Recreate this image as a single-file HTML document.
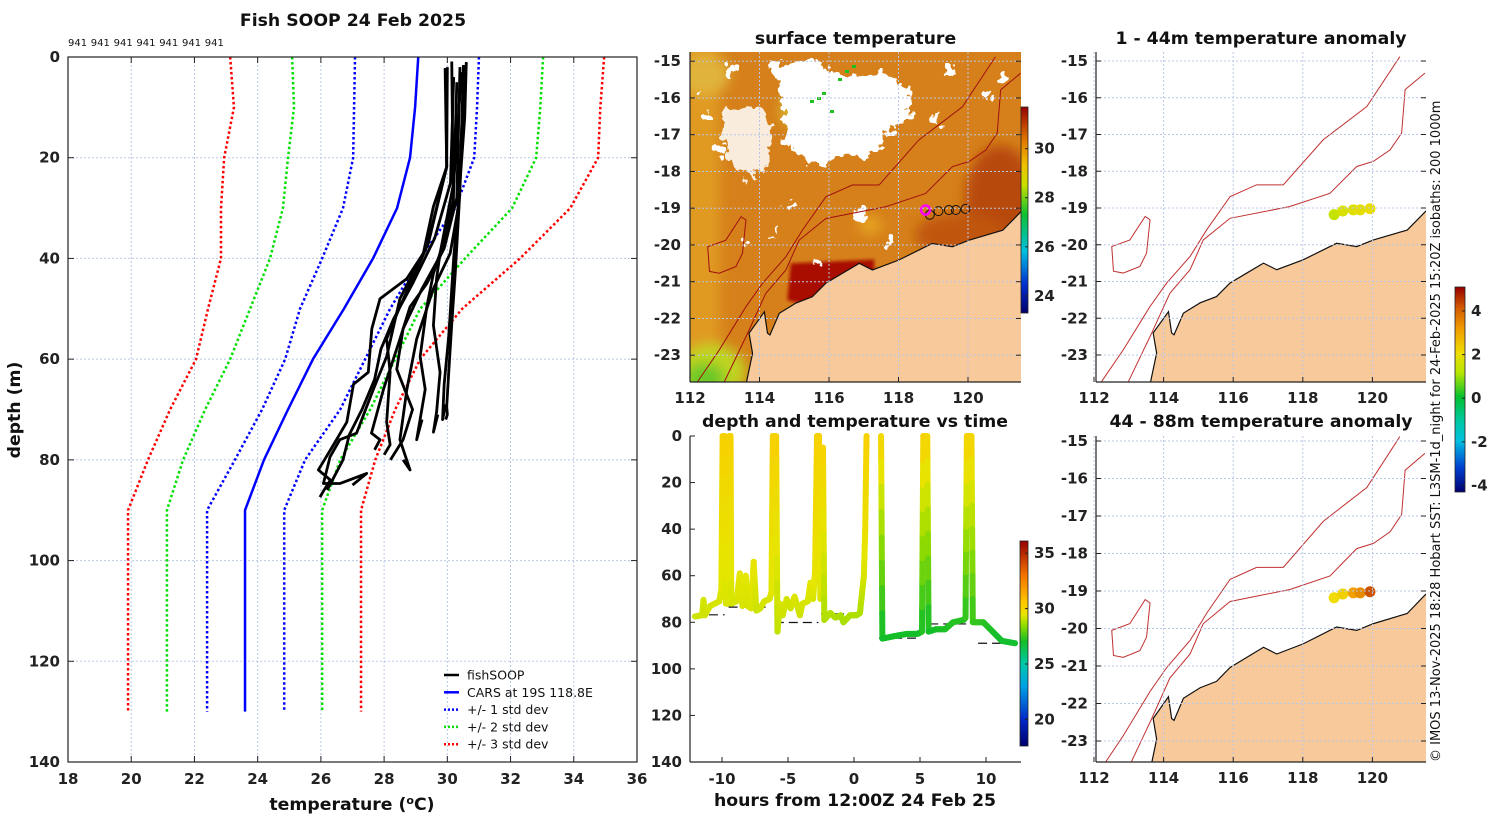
<!DOCTYPE html>
<html><head><meta charset="utf-8">
<style>
html,body{margin:0;padding:0;background:#fff;}
svg{display:block;font-family:"DejaVu Sans","Liberation Sans",sans-serif;}
.tk{font-size:15px;font-weight:bold;fill:#222;}
.ti{font-size:17.3px;font-weight:bold;fill:#111;}
</style></head>
<body>
<svg id="fig" width="1500" height="820" viewBox="0 0 1500 820" xmlns="http://www.w3.org/2000/svg">
<defs>
<clipPath id="cMid"><rect x="690" y="52" width="331" height="330"/></clipPath>
<clipPath id="cR1"><rect x="1096" y="52" width="330" height="330"/></clipPath>
<clipPath id="cR2"><rect x="1096" y="436" width="330" height="326"/></clipPath>
<filter id="blur6"><feGaussianBlur stdDeviation="6"/></filter>
<filter id="blur3"><feGaussianBlur stdDeviation="1.5"/></filter>
<filter id="ragged" x="-20%" y="-20%" width="140%" height="140%">
<feTurbulence type="fractalNoise" baseFrequency="0.09" numOctaves="3" seed="4" result="n"/>
<feDisplacementMap in="SourceGraphic" in2="n" scale="22" xChannelSelector="R" yChannelSelector="G"/>
</filter>
<linearGradient id="gSST" x1="0" y1="1" x2="0" y2="0">
<stop offset="0" stop-color="#00006e"/><stop offset="0.14" stop-color="#0030d0"/><stop offset="0.3" stop-color="#00c0e0"/><stop offset="0.48" stop-color="#10c030"/><stop offset="0.62" stop-color="#c8e000"/><stop offset="0.72" stop-color="#f0c000"/><stop offset="0.84" stop-color="#e07800"/><stop offset="1" stop-color="#960000"/>
</linearGradient>
<linearGradient id="gTS" x1="0" y1="1" x2="0" y2="0">
<stop offset="0" stop-color="#00006e"/><stop offset="0.13" stop-color="#0028c8"/><stop offset="0.29" stop-color="#00a0e6"/><stop offset="0.4" stop-color="#00c8aa"/><stop offset="0.51" stop-color="#14be28"/><stop offset="0.59" stop-color="#96dc00"/><stop offset="0.64" stop-color="#e6e600"/><stop offset="0.7" stop-color="#ffc800"/><stop offset="0.84" stop-color="#f06e00"/><stop offset="1" stop-color="#960000"/>
</linearGradient>
<linearGradient id="gAN" x1="0" y1="1" x2="0" y2="0">
<stop offset="0" stop-color="#000070"/><stop offset="0.12" stop-color="#0040d0"/><stop offset="0.25" stop-color="#00c0e0"/><stop offset="0.35" stop-color="#00c8a0"/><stop offset="0.46" stop-color="#00c030"/><stop offset="0.58" stop-color="#b4e600"/><stop offset="0.68" stop-color="#f0dc00"/><stop offset="0.79" stop-color="#f0a000"/><stop offset="0.9" stop-color="#d25a00"/><stop offset="1" stop-color="#960000"/>
</linearGradient>
</defs>
<g id="gLeft"></g>
<g id="gMid"></g>
<g id="gTime"></g>
<g id="gR1"></g>
<g id="gR2"></g>
<text x="1440" y="762" transform="rotate(-90 1440 762)" style="font-size:13px;fill:#111">© IMOS 13-Nov-2025 18:28 Hobart SST: L3SM-1d_night for 24-Feb-2025 15:20Z isobaths: 200  1000m</text>
</svg>
<script>
// ---------- data: left profile chart ----------
const stdDepths = [0,10,20,30,40,50,60,70,80,90,130];
const carsMean  = [29.08,28.98,28.82,28.41,27.65,26.73,25.75,24.96,24.2,23.6,23.6];
const minus1 = [27.08,27.05,27.02,26.7,26.04,25.34,24.87,24.14,23.28,22.4,22.4];
const plus1  = [31.0,30.94,30.85,30.25,29.14,28.19,27.4,26.61,25.5,24.84,24.84];
const minus2 = [25.09,25.15,24.96,24.8,24.39,23.76,23.13,22.34,21.64,21.13,21.13];
const plus2  = [33.03,32.94,32.81,32.05,30.56,29.14,28.35,27.56,26.61,26.04,26.04];
const minus3 = [23.13,23.25,22.94,22.84,22.84,22.43,22.05,21.23,20.53,19.9,19.9];
const plus3  = [34.96,34.84,34.77,33.89,32.3,30.47,29.14,28.35,27.72,27.27,27.27];
const profTemps = [
 [30.51,30.45,30.4,30.25,30.14,30.05,29.98,30.0,29.95],
 [29.93,29.98,29.56,29.24,28.72,27.87,27.61,27.5,27.03,26.82,26.4,25.92,26.3,26.1,25.97],
 [30.14,30.19,29.87,29.35,28.82,28.5,27.98,27.6,27.87,27.7],
 [30.54,30.35,30.09,29.56,29.03,28.72,28.5,28.82,28.6],
 [30.3,30.19,29.87,29.56,29.35,29.14,29.3,29.03,29.2],
 [30.45,30.2,29.77,29.66,29.56,29.77,29.66,29.56,29.7],
 [30.0,29.98,29.4,28.5,28.08,27.66,27.45,27.13,26.6,26.29,26.08,26.6,27.45,27.0],
 [29.95,29.98,29.35,28.5,28.08,28.19,28.08,28.19,28.0],
 [30.6,30.55,30.4,30.2,30.05,29.9,29.85,29.95],
 [30.2,30.1,29.6,28.9,28.3,27.9,27.7,27.3,26.9,26.7,26.2],
 [30.4,30.3,29.9,29.2,28.6,28.4,28.9,28.6,28.2]
];
const profDepths = [
 [1.6,15,26.4,43,53,62,69.4,71,72],
 [2.2,21.8,29.7,39,44,48,54,62.6,65,72.5,77,82,84,86,87.4],
 [0.9,29.7,38.3,45,49.6,56,66,74.7,76,78],
 [1.6,29.7,39,46,56,66,76,82,80],
 [5,28.4,37,43,49.6,59.5,66,76,72],
 [3,25,39,44,53.3,62.6,70.5,74.5,71],
 [2,21.8,37,48,59.5,66,69.4,74.7,76,79.4,84.7,84.7,82.7,85],
 [3,21.8,37.7,49.6,56,62.6,72.5,77,79],
 [1,12,25,40,55,65,72,69],
 [4,25,36,45,52,58,64,70,75,80,86],
 [2,28,38,46,54,62,70,76,80]
];
const tempTicks = [18,20,22,24,26,28,30,32,34,36];
const depthTicks = [0,20,40,60,80,100,120,140];
const countLabels = ["941","941","941","941","941","941","941"];

// ---------- data: time series ----------
const tsHours = [-12.05,-11.5,-11.4,-11.3,-10.9,-10.2,-10.05,-9.95,-9.8,-9.7,-9.55,-9.45,-9.35,-9.3,-8.9,-8.65,-8.45,-8.2,-8.05,-7.8,-7.6,-7.4,-7.1,-6.8,-6.4,-6.25,-6.15,-5.9,-5.8,-5.6,-5.4,-5.1,-4.8,-4.5,-4.1,-3.9,-3.5,-3.3,-3.1,-2.95,-2.8,-2.65,-2.55,-2.45,-2.35,-2.25,-1.8,-1.4,-1.0,-0.8,-0.3,0.2,0.45,0.6,0.75,0.85,0.95];
const tsDepths = [77.5,77,70.4,77,73,71,66,0,0,72,72,0,0,72,71,59,73,60,73,74,54,75,74,71,70,67,0,0,84,72,77,70,74,69,77,72,71,63,70,58,0,0,70,65,5,79,76,78,77,80,77,77,76,68,60,40,0];
const tsTemps = [29.2,29.2,29.3,29.2,29.3,29.3,29.4,30.2,30.2,29.3,29.3,30.2,30.2,29.3,29.3,29.5,29.3,29.5,29.3,29.3,29.6,29.2,29.2,29.3,29.3,29.4,30.2,30.2,29.0,29.3,29.2,29.3,29.2,29.4,29.2,29.3,29.3,29.5,29.3,29.6,30.2,30.2,29.3,29.4,30.2,28.8,28.9,28.8,28.8,28.7,28.8,28.8,28.8,29.0,29.3,29.7,30.2];
const tsHours2 = [2.05,2.15,3.0,4.0,4.8,5.15,5.25,5.55,5.65,6.2,6.9,7.5,8.3,8.45,8.55,8.9,9.0,9.8,10.5,11.2,12.2];
const tsDepths2 = [0,87,86,85,85,84,0,0,84,83,83,80,79,78,0,0,80,80,84,88,89];
const tsTemps2 = [30.2,26.9,27.0,27.0,27.0,27.0,30.2,30.2,27.0,27.0,27.1,27.2,27.2,27.2,30.2,30.2,27.4,27.3,27.1,26.9,26.9];
const bottomStart = [-12.05,-9.5,-6.0,-2.5,1.9,5.7,9.4];
const bottomEnd   = [-9.8,-6.4,-2.7,0.65,5.05,8.8,12.2];
const bottomDepth = [76.8,73.5,80.1,76.4,86.8,80.7,89];
const hourTicks = [-10,-5,0,5,10];
const tsDepthTicks = [0,20,40,60,80,100,120,140];

// ---------- data: maps ----------
const lonTicks = [112,114,116,118,120];
const latTicks = [-15,-16,-17,-18,-19,-20,-21,-22,-23];
const coastLon = [113.61,113.8,113.7,114.14,114.23,114.3,114.57,115.05,115.52,115.91,116.39,116.87,117.25,118.01,118.97,119.55,120.03,121.0,121.52,121.8,121.8,113.5];
const coastLat = [-23.8,-22.95,-22.4,-21.82,-22.4,-22.45,-21.86,-21.58,-21.41,-21.04,-20.77,-20.5,-20.68,-20.41,-19.96,-20.05,-19.87,-19.6,-19.1,-18.9,-24,-24];
const iso200Lon = [112.99,113.66,114.18,114.76,115.14,115.91,117.63,118.78,119.55,120.03,120.51,120.84,120.94,121.51];
const iso200Lat = [-23.72,-22.4,-21.32,-20.68,-19.87,-19.28,-18.96,-18.6,-17.87,-17.73,-17.42,-16.96,-15.78,-15.33];
const iso1000Lon = [112.22,112.84,113.61,114.09,114.76,115.24,115.91,116.67,117.44,118.59,119.84,120.79];
const iso1000Lat = [-23.72,-22.86,-21.68,-21.04,-20.32,-19.59,-18.69,-18.37,-18.37,-17.14,-16.24,-14.88];
const islandLon = [112.51,113.03,113.47,113.61,113.51,113.32,112.84,112.56];
const islandLat = [-20.05,-19.87,-19.23,-19.32,-20.23,-20.59,-20.77,-20.72];
const trackLon = [118.9,119.15,119.45,119.65,119.93];
const trackLat = [-19.18,-19.08,-19.05,-19.05,-19.02];
const anomShallow = [1.3,1.6,1.7,1.8,1.9];
const anomDeep = [2.0,2.2,3.0,3.3,4.1];
const cloudLon = [114.3,115.6,116.3,117.6,118.4,118.3,117.7,117.1,116.5,115.8,115.2,114.7,114.8];
const cloudLat = [-15.1,-15.0,-15.4,-15.3,-15.8,-16.6,-17.0,-17.7,-17.5,-17.9,-17.6,-17.2,-16.2];
const cloud2Lon = [113.0,113.9,114.4,114.2,113.7,113.2,112.9];
const cloud2Lat = [-16.3,-16.1,-16.9,-17.9,-18.3,-17.8,-17.0];
const sstTicks = [24,26,28,30];
const tsTempTicks = [20,25,30,35];
const anomTicks = [-4,-2,0,2,4];

const NS = "http://www.w3.org/2000/svg";
function mk(parent, tag, attrs, txt){
  const e = document.createElementNS(NS, tag);
  for (const k in attrs) e.setAttribute(k, attrs[k]);
  if (txt !== undefined) e.textContent = txt;
  parent.appendChild(e); return e;
}
function lerpStops(stops, v){
  if (v <= stops[0][0]) return stops[0][1];
  for (let i=1;i<stops.length;i++){
    if (v <= stops[i][0]){
      const a=stops[i-1], b=stops[i], t=(v-a[0])/(b[0]-a[0]);
      return a[1].map((c,j)=>Math.round(c+(b[1][j]-c)*t));
    }
  }
  return stops[stops.length-1][1];
}
const tsStops = [[17.6,[0,0,110]],[20,[0,40,200]],[23,[0,160,230]],[25,[0,200,170]],[27,[20,190,40]],[28.5,[150,220,0]],[29.5,[230,230,0]],[30.5,[255,200,0]],[33,[240,110,0]],[36,[150,0,0]]];
const anStops = [[-4.3,[0,0,112]],[-3,[0,64,208]],[-2,[0,192,224]],[-1,[0,200,160]],[0,[0,192,48]],[1,[180,230,0]],[2,[240,220,0]],[3,[240,160,0]],[4,[210,90,0]],[5.1,[150,0,0]]];
const rgb = c => `rgb(${c[0]},${c[1]},${c[2]})`;

// ================= LEFT PROFILE CHART =================
(function(){
  const g = document.getElementById('gLeft');
  const L=68,R=637,T=57,B=762;
  const xT = t => L + (t-18)*(R-L)/18;
  const yD = d => T + d*(B-T)/140;
  const grid = mk(g,'g',{});
  
  
  tempTicks.forEach(t=>{ if(t>18&&t<36) mk(grid,'line',{x1:xT(t),x2:xT(t),y1:T,y2:B,stroke:'#b8c8e8','stroke-width':1,'stroke-dasharray':'2,2'}); });
  depthTicks.forEach(d=>{ if(d>0&&d<140) mk(grid,'line',{x1:L,x2:R,y1:yD(d),y2:yD(d),stroke:'#b8c8e8','stroke-width':1,'stroke-dasharray':'2,2'}); });
  const mkLine=(temps,color,dash,name,w)=>{
    const p = mk(g,'polyline',{points:temps.map((t,i)=>xT(t)+','+yD(stdDepths[i])).join(' '),fill:'none',stroke:color,'stroke-width':w,'stroke-dasharray':dash});
    
    
  };
  mkLine(minus3,'#ff0000','2.5,2.5','minus-3-std-line',2.5);
  mkLine(plus3,'#ff0000','2.5,2.5','plus-3-std-line',2.5);
  mkLine(minus2,'#00e000','2.5,2.5','minus-2-std-line',2.5);
  mkLine(plus2,'#00e000','2.5,2.5','plus-2-std-line',2.5);
  mkLine(minus1,'#0000ff','2.5,2.5','minus-1-std-line',2.5);
  mkLine(plus1,'#0000ff','2.5,2.5','plus-1-std-line',2.5);
  mkLine(carsMean,'#0000ff','none','cars-mean-line',2.5);
  profTemps.forEach((pt,k)=>{
    const p = mk(g,'polyline',{points:pt.map((t,i)=>xT(t)+','+yD(profDepths[k][i])).join(' '),fill:'none',stroke:'#000','stroke-width':2.8,'stroke-linejoin':'round'});
    
    
  });
  mk(g,'rect',{x:L,y:T,width:R-L,height:B-T,fill:'none',stroke:'#222','stroke-width':1.2});
  tempTicks.forEach(t=>{
    mk(g,'line',{x1:xT(t),x2:xT(t),y1:B,y2:B-6,stroke:'#222'});
    mk(g,'line',{x1:xT(t),x2:xT(t),y1:T,y2:T+6,stroke:'#222'});
    const tx = mk(g,'text',{x:xT(t),y:784,'text-anchor':'middle',class:'tk'},String(t));
    
    
  });
  depthTicks.forEach(d=>{
    mk(g,'line',{x1:L,x2:L+6,y1:yD(d),y2:yD(d),stroke:'#222'});
    mk(g,'line',{x1:R,x2:R-6,y1:yD(d),y2:yD(d),stroke:'#222'});
    const tx = mk(g,'text',{x:60,y:yD(d)+5,'text-anchor':'end',class:'tk'},String(d));
    
    
  });
  countLabels.forEach((c,i)=>{
    const tx = mk(g,'text',{x:68+i*22.8,y:46,style:'font-size:10px;fill:#111'},c);
    
    
  });
  const ti = mk(g,'text',{x:353,y:26,'text-anchor':'middle',class:'ti'},'Fish SOOP 24 Feb 2025');
  
  
  const xl = mk(g,'text',{x:352,y:810,'text-anchor':'middle',class:'ti'},'');
  xl.innerHTML = 'temperature (<tspan dy="-6" style="font-size:11px">o</tspan><tspan dy="6">C)</tspan>';
  
  
  const yl = mk(g,'text',{x:20,y:410,'text-anchor':'middle',class:'ti',transform:'rotate(-90 20 410)'},'depth (m)');
  
  
  const leg = mk(g,'g',{});
  
  
  const items=[['#000','none','fishSOOP'],['#0000ff','none','CARS at 19S 118.8E'],['#0000ff','2,2','+/- 1 std dev'],['#00e000','2,2','+/- 2 std dev'],['#ff0000','2,2','+/- 3 std dev']];
  items.forEach((it,i)=>{
    const y=675+i*17.3;
    const e = mk(leg,'g',{});
    
    
    mk(e,'line',{x1:444,x2:459,y1:y,y2:y,stroke:it[0],'stroke-width':2.5,'stroke-dasharray':it[1]});
    mk(e,'text',{x:467,y:y+4.5,style:'font-size:12.5px;fill:#111'},it[2]);
  });
})();

// ================= MAP HELPERS =================
function poly(parent, lons, lats, P, attrs, name){
  const p = mk(parent,'polygon',Object.assign({points:lons.map((l,i)=>P.x(l)+','+P.y(lats[i])).join(' ')},attrs));
  
  
  return p;
}
function pline(parent, lons, lats, P, attrs, name){
  const p = mk(parent,'polyline',Object.assign({points:lons.map((l,i)=>P.x(l)+','+P.y(lats[i])).join(' '),fill:'none'},attrs));
  
  
  return p;
}
function mapAxes(g, P, box, labX, title, titleY){
  lonTicks.forEach(l=>{
    mk(g,'line',{x1:P.x(l),x2:P.x(l),y1:box.T,y2:box.B,stroke:'#b8c8e8','stroke-dasharray':'2,2'});
    mk(g,'line',{x1:P.x(l),x2:P.x(l),y1:box.B,y2:box.B-5,stroke:'#222'});
    const tx = mk(g,'text',{x:P.x(l),y:box.B+21,'text-anchor':'middle',class:'tk'},String(l));
    
    
  });
  latTicks.forEach(l=>{
    const y=P.y(l); if(y<box.T||y>box.B) return;
    mk(g,'line',{x1:box.L,x2:box.R,y1:y,y2:y,stroke:'#b8c8e8','stroke-dasharray':'2,2'});
    mk(g,'line',{x1:box.L,x2:box.L+5,y1:y,y2:y,stroke:'#222'});
    mk(g,'line',{x1:box.R,x2:box.R-5,y1:y,y2:y,stroke:'#222'});
    const tx = mk(g,'text',{x:labX,y:y+5,'text-anchor':'end',class:'tk'},String(l));
    
    
  });
  mk(g,'line',{x1:box.L,x2:box.L,y1:box.T,y2:box.B,stroke:'#222','stroke-width':1.2});
  mk(g,'line',{x1:box.L,x2:box.R,y1:box.B,y2:box.B,stroke:'#222','stroke-width':1.2});
  const ti = mk(g,'text',{x:(box.L+box.R)/2,y:titleY,'text-anchor':'middle',class:'ti'},title);
  
  
}
function colorbar(g, x, y0, y1, w, grad, vmin, vmax, ticks, name){
  const cb = mk(g,'g',{});
  
  
  mk(cb,'rect',{x:x,y:y0,width:w,height:y1-y0,fill:'url(#'+grad+')',stroke:'#222','stroke-width':0.8});
  ticks.forEach(t=>{
    const y = y1 - (t-vmin)/(vmax-vmin)*(y1-y0);
    mk(cb,'line',{x1:x+w-3,x2:x+w,y1:y,y2:y,stroke:'#222'});
    mk(cb,'text',{x:x+w+6,y:y+5,class:'tk'},String(t));
  });
}

// ================= MIDDLE SST MAP =================
(function(){
  const g = document.getElementById('gMid');
  const P = {x:l=>690+(l-112)*34.75, y:l=>52+(-14.75-l)*36.75};
  const box={L:690,R:1021,T:52,B:382};
  const c = mk(g,'g',{'clip-path':'url(#cMid)'});
  mk(c,'rect',{x:690,y:52,width:331,height:330,fill:'#d5801a'});
  const f = mk(c,'g',{filter:'url(#blur6)'});
  mk(f,'rect',{x:670,y:40,width:50,height:350,fill:'#e09a22'});
  mk(f,'ellipse',{cx:712,cy:372,rx:34,ry:28,fill:'#c0d424'});
  mk(f,'ellipse',{cx:705,cy:378,rx:20,ry:15,fill:'#6cc828'});
  mk(f,'ellipse',{cx:705,cy:75,rx:25,ry:20,fill:'#e0b43a'});
  mk(f,'ellipse',{cx:810,cy:110,rx:30,ry:22,fill:'#d8b82e'});
  mk(f,'ellipse',{cx:1000,cy:200,rx:35,ry:55,fill:'#b84a10'});
  mk(f,'ellipse',{cx:960,cy:235,rx:45,ry:22,fill:'#c05610'});
  mk(f,'ellipse',{cx:870,cy:225,rx:12,ry:9,fill:'#e7a522'});
  poly(c,[114.9,117.3,117.3,115.6,114.8],[-20.5,-20.4,-20.9,-21.7,-21.5],P,{fill:'#a80a00',filter:'url(#blur3)'},'warm-coastal-band');
  const cl = mk(c,'g',{filter:'url(#ragged)'});
  poly(cl,cloudLon,cloudLat,P,{fill:'#ffffff'},'cloud-mask');
  poly(cl,cloud2Lon,cloud2Lat,P,{fill:'#ffffff','fill-opacity':0.85},'cloud-mask-west');
  [[730,70,6],[705,115,4],[720,150,5],[745,240,4],[700,95,3],[935,120,5],[960,250,4],[860,215,7],[985,95,5],[820,265,3],[890,240,4],[950,70,6],[1005,80,4],[775,230,3],[790,205,4]].forEach(b=>{
    const e = mk(cl,'circle',{cx:b[0],cy:b[1],r:b[2],fill:'#ffffff'});
    
    
  });
  [[845,70],[838,78],[852,65],[817,97],[822,92],[810,100],[830,110]].forEach(b=>mk(c,'rect',{x:b[0],y:b[1],width:4,height:3,fill:'#20c020'}));
  pline(c,iso200Lon,iso200Lat,P,{stroke:'#a01010','stroke-width':1},'isobath-200m');
  pline(c,iso1000Lon,iso1000Lat,P,{stroke:'#a01010','stroke-width':1},'isobath-1000m');
  poly(c,islandLon,islandLat,P,{fill:'none',stroke:'#a01010','stroke-width':1},'shelf-contour');
  poly(c,coastLon,coastLat,P,{fill:'#f8c99b',stroke:'#111','stroke-width':1.2},'land');
  trackLon.forEach((l,i)=>{
    const e = mk(c,'circle',{cx:P.x(l),cy:P.y(trackLat[i]),r:4.5,fill:'none',stroke:'#111','stroke-width':1});
    
    
  });
  const m = mk(c,'circle',{cx:P.x(118.78),cy:P.y(-19.05),r:4.5,fill:'none',stroke:'#ff00ff','stroke-width':2.5});
  
  
  mapAxes(g,P,box,681,'surface temperature',44);
  colorbar(g,1021,107,313,7,'gSST',23.3,31.7,sstTicks,'sst-colorbar');
})();

// ================= TIME SERIES =================
(function(){
  const g = document.getElementById('gTime');
  const L=690,R=1021,T=436,B=762;
  const xH = h => 854 + h*13.2;
  const yD = d => T + d*(B-T)/140;
  hourTicks.forEach(h=>{
    mk(g,'line',{x1:xH(h),x2:xH(h),y1:B,y2:B-5,stroke:'#222'});
    const tx = mk(g,'text',{x:xH(h),y:784,'text-anchor':'middle',class:'tk'},String(h));
    
    
  });
  tsDepthTicks.forEach(d=>{
    mk(g,'line',{x1:L,x2:L+5,y1:yD(d),y2:yD(d),stroke:'#222'});
    const tx = mk(g,'text',{x:682,y:yD(d)+5,'text-anchor':'end',class:'tk'},String(d));
    
    
  });
  mk(g,'line',{x1:L,x2:L,y1:T,y2:B,stroke:'#222','stroke-width':1.2});
  mk(g,'line',{x1:L,x2:R,y1:B,y2:B,stroke:'#222','stroke-width':1.2});
  bottomStart.forEach((s,i)=>{
    const e = mk(g,'line',{x1:xH(s),x2:xH(bottomEnd[i]),y1:yD(bottomDepth[i]),y2:yD(bottomDepth[i]),stroke:'#111','stroke-width':1.2,'stroke-dasharray':'9,5'});
    
    
  });
  function drawSeries(H,D,Tm,name){
    const sg = mk(g,'g',{});
    
    
    for(let i=0;i<H.length-1;i++){
      const n=8;
      for(let k=0;k<n;k++){
        const a=k/n,b=(k+1)/n;
        const tm = Tm[i]+(Tm[i+1]-Tm[i])*(a+b)/2;
        mk(sg,'line',{x1:xH(H[i]+(H[i+1]-H[i])*a),y1:yD(D[i]+(D[i+1]-D[i])*a),x2:xH(H[i]+(H[i+1]-H[i])*b),y2:yD(D[i]+(D[i+1]-D[i])*b),stroke:rgb(lerpStops(tsStops,tm)),'stroke-width':6,'stroke-linecap':'round'});
      }
    }
  }
  drawSeries(tsHours,tsDepths,tsTemps,'temperature-track-1');
  drawSeries(tsHours2,tsDepths2,tsTemps2,'temperature-track-2');
  const ti = mk(g,'text',{x:855,y:427,'text-anchor':'middle',class:'ti'},'depth and temperature vs time');
  
  
  const xl = mk(g,'text',{x:855,y:806,'text-anchor':'middle',class:'ti'},'hours from 12:00Z 24 Feb 25');
  
  
  colorbar(g,1020,541,746,8,'gTS',17.6,36.1,tsTempTicks,'time-temp-colorbar');
})();

// ================= ANOMALY MAPS =================
function anomMap(id, P, box, clip, title, titleY, vals){
  const g = document.getElementById(id);
  const c = mk(g,'g',{'clip-path':'url(#'+clip+')'});
  pline(c,iso200Lon,iso200Lat,P,{stroke:'#c03030','stroke-width':1},'isobath-200m');
  pline(c,iso1000Lon,iso1000Lat,P,{stroke:'#c03030','stroke-width':1},'isobath-1000m');
  poly(c,islandLon,islandLat,P,{fill:'none',stroke:'#c03030','stroke-width':1},'shelf-contour');
  poly(c,coastLon,coastLat,P,{fill:'#f8c99b',stroke:'#111','stroke-width':1.2},'land');
  trackLon.forEach((l,i)=>{
    const e = mk(c,'circle',{cx:P.x(l),cy:P.y(trackLat[i]),r:5.5,fill:rgb(lerpStops(anStops,vals[i]))});
    
    
  });
  mapAxes(g,P,box,1088,title,titleY);
}
anomMap('gR1',{x:l=>1094+(l-112)*34.8,y:l=>61+(-15-l)*36.75},{L:1096,R:1426,T:52,B:382},'cR1','1 - 44m temperature anomaly',44,anomShallow);
anomMap('gR2',{x:l=>1094+(l-112)*34.8,y:l=>441+(-15-l)*37.5},{L:1096,R:1426,T:436,B:762},'cR2','44 - 88m temperature anomaly',427,anomDeep);
colorbar(document.getElementById('gR1'),1455,287,492,10,'gAN',-4.3,5.1,anomTicks,'anomaly-colorbar');
</script>
</body></html>
